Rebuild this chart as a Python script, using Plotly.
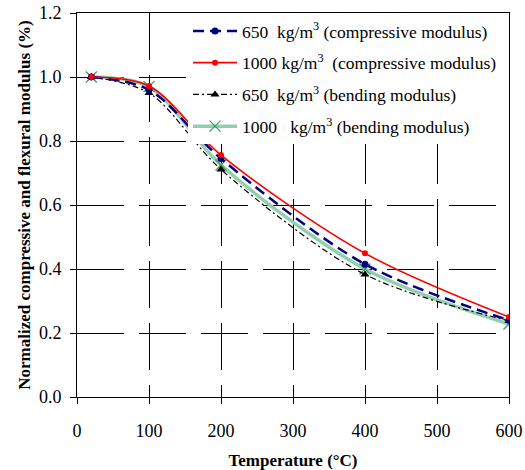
import plotly.graph_objects as go

temps = [20, 100, 200, 400, 600]
comp_650 = [1.0, 0.96, 0.745, 0.415, 0.24]
comp_1000 = [1.0, 0.972, 0.756, 0.449, 0.25]
bend_650 = [1.0, 0.95, 0.711, 0.383, 0.238]
bend_1000 = [1.0, 0.97, 0.725, 0.40, 0.228]

names = [
    "650\u00a0\u00a0kg/m<sup>3</sup> (compressive modulus)",
    "1000\u00a0kg/m<sup>3</sup>\u00a0 (compressive modulus)",
    "650\u00a0\u00a0kg/m<sup>3</sup> (bending modulus)",
    "1000\u00a0\u00a0 kg/m<sup>3</sup> (bending modulus)",
]

FONT = "Liberation Serif"

fig = go.Figure()

fig.add_trace(go.Scatter(
    x=temps, y=bend_1000, name=names[3], mode="lines+markers",
    line=dict(color="#93cfae", width=3.5, shape="spline", smoothing=0.9),
    marker=dict(symbol="x-thin", size=11, line=dict(color="#3a9e6a", width=1.3), color="#3a9e6a"),
    legendrank=4, legendgroup="d"))
fig.add_trace(go.Scatter(
    x=temps, y=bend_650, name=names[2], mode="lines+markers",
    line=dict(color="black", width=1.2, dash="6px,3px,2px,3px", shape="spline", smoothing=0.9),
    marker=dict(symbol="triangle-up", size=8, color="black"),
    legendrank=3, legendgroup="c"))
fig.add_trace(go.Scatter(
    x=temps, y=comp_650, name=names[0], mode="lines+markers",
    line=dict(color="#000080", width=2.5, dash="11px,6px", shape="spline", smoothing=0.9),
    marker=dict(symbol="circle", size=7, color="#000080"),
    legendrank=1, legendgroup="a"))
fig.add_trace(go.Scatter(
    x=temps, y=comp_1000, name=names[1], mode="lines+markers",
    line=dict(color="#ff0000", width=1.6, shape="spline", smoothing=0.9),
    marker=dict(symbol="circle", size=6, color="#ff0000"),
    legendrank=2, legendgroup="b"))

grid_dash = "47px,15px"

fig.update_layout(
    width=525, height=470,
    margin=dict(l=77, r=16, t=13, b=73, autoexpand=False),
    paper_bgcolor="white", plot_bgcolor="white",
    font=dict(family=FONT, size=18, color="black"),
    showlegend=True,
    legend=dict(
        x=0.257, y=1.0, xanchor="left", yanchor="top",
        bgcolor="white", borderwidth=0,
        font=dict(family=FONT, size=17.5, color="black"),
        tracegroupgap=6, itemwidth=44,
    ),
    xaxis=dict(
        range=[0, 600], dtick=100, tick0=0,
        showline=True, linecolor="black", linewidth=1, mirror=True,
        ticks="outside", ticklen=6, tickcolor="black",
        ticklabelstandoff=11,
        tickfont=dict(family=FONT, size=18, color="black"),
        showgrid=True, gridcolor="black", gridwidth=1, griddash=grid_dash,
        zeroline=False,
        title=dict(text="<b>Temperature (°C)</b>", font=dict(family=FONT, size=17), standoff=14),
    ),
    yaxis=dict(
        range=[0, 1.2], dtick=0.2, tick0=0, tickformat=".1f",
        showline=True, linecolor="black", linewidth=1, mirror=True,
        ticks="outside", ticklen=6, tickcolor="black",
        ticklabelstandoff=5,
        tickfont=dict(family=FONT, size=18, color="black"),
        showgrid=True, gridcolor="black", gridwidth=1, griddash=grid_dash,
        zeroline=False,
        title=dict(text="<b>Normalized compressive and flexural modulus (%)</b>",
                   font=dict(family=FONT, size=17), standoff=3),
    ),
)

fig.write_html("out.html", config={"displayModeBar": False},
               post_script="document.body.style.margin='0';")
